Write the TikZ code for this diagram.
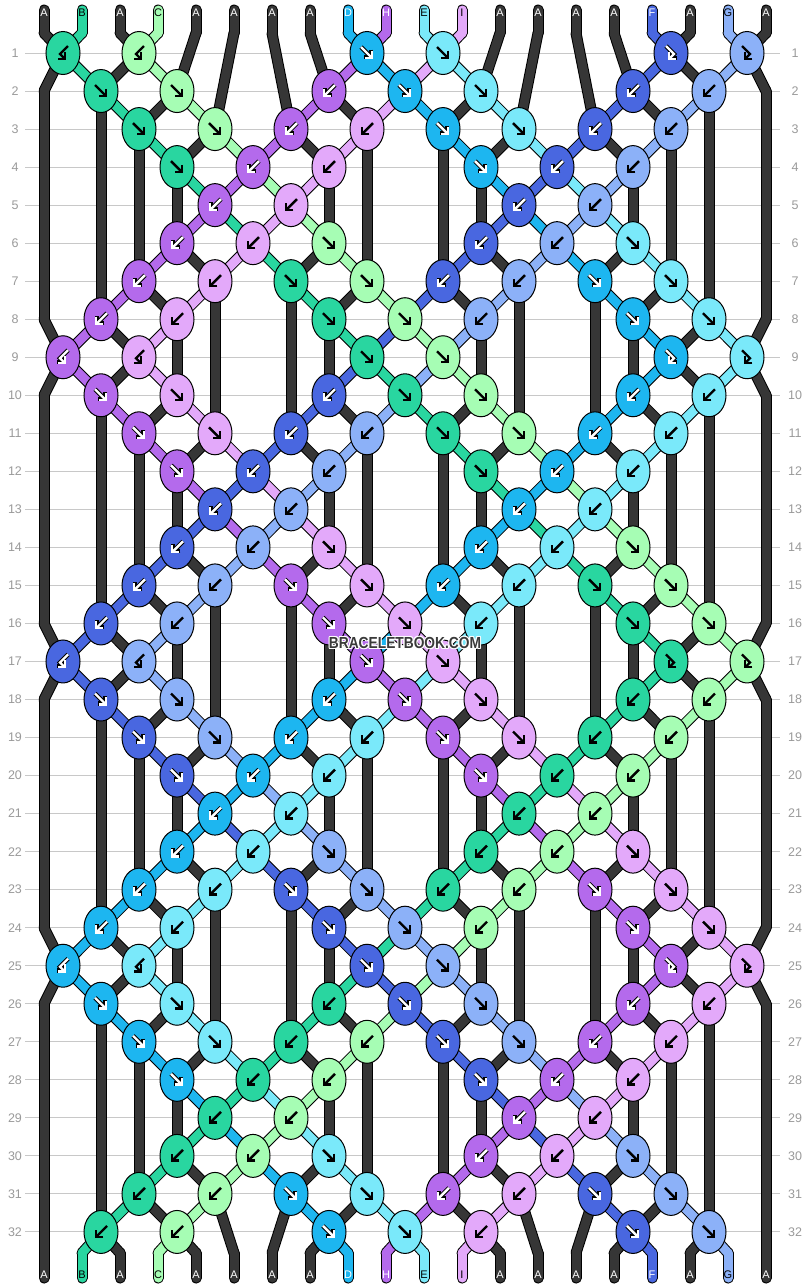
\documentclass[tikz,border=0pt]{standalone}
\usepackage{fontspec}
\setmainfont{Liberation Sans}
\usetikzlibrary{arrows.meta,shapes.geometric}

% thread colours
\definecolor{strA}{HTML}{363636}
\definecolor{strB}{HTML}{29D6A0}
\definecolor{strC}{HTML}{A6FDB4}
\definecolor{strD}{HTML}{1DB6F0}
\definecolor{strE}{HTML}{7AE9FA}
\definecolor{strF}{HTML}{4967E0}
\definecolor{strG}{HTML}{8CB1F8}
\definecolor{strH}{HTML}{B46AEC}
\definecolor{strI}{HTML}{E3A9FA}
% arrow ink and its rim on each colour
\colorlet{inkA}{white}\colorlet{haloA}{strA}
\colorlet{inkB}{black}\colorlet{haloB}{strB}
\colorlet{inkC}{black}\colorlet{haloC}{strC}
\colorlet{inkD}{white}\colorlet{haloD}{black}
\colorlet{inkE}{black}\colorlet{haloE}{strE}
\colorlet{inkF}{white}\colorlet{haloF}{black}
\colorlet{inkG}{black}\colorlet{haloG}{strG}
\colorlet{inkH}{white}\colorlet{haloH}{black}
\colorlet{inkI}{black}\colorlet{haloI}{strI}
\definecolor{gridgray}{HTML}{C8C8C8}
\definecolor{numgray}{HTML}{9A9A9A}
\definecolor{markgray}{HTML}{3A3A3A}

\pgfdeclarelayer{paper}
\pgfdeclarelayer{rims}
\pgfdeclarelayer{threads}
\pgfsetlayers{paper,rims,threads,main}

\tikzset{
  knot/.style={ellipse, draw=black, line width=1pt, minimum width=34pt,
    minimum height=43pt, inner sep=0pt},
  rowline/.style={gridgray, line width=1pt},
  rownum/.style={numgray, font=\fontsize{12.5}{12.5}\selectfont, inner sep=0pt},
  endlabel/.style={font=\fontsize{11}{11}\selectfont, inner sep=0pt},
  rim/.style={black, line width=11pt, line cap=round, line join=round},
  strand/.style={line width=9pt, line cap=round, line join=round},
  knotarrow/.style={line width=2.4pt, -{Straight Barb[length=5pt,width=10pt]}},
  watermark/.style={font=\bfseries\fontsize{16}{16}\selectfont, inner sep=0pt}
}

% pieces of thread are collected first and drawn under the knots at the end
\gdef\threadlist{}
\newcommand\thread[3]{%
  \xdef\threadlist{\unexpanded\expandafter{\threadlist}\noexpand\piece{#1}{#2}{#3}}}
\newcommand\rimpiece[3]{\draw[rim] (#1.center) -- (#2.center);}
\newcommand\strandpiece[3]{\draw[strand, str#3] (#1.center) -- (#2.center);}

% arrow inside a knot: type (f, b, F = fb, B = bf), colour, knot
\newcommand\knotarrow[3]{%
  \if#1f\def\ax{-6}\def\ay{-6}\def\bx{0}\def\by{0}\def\cx{6}\def\cy{6}\fi
  \if#1b\def\ax{6}\def\ay{-6}\def\bx{0}\def\by{0}\def\cx{-6}\def\cy{6}\fi
  \if#1F\def\ax{-5}\def\ay{-7}\def\bx{3}\def\by{1}\def\cx{-3}\def\cy{7}\fi
  \if#1B\def\ax{5}\def\ay{-7}\def\bx{-3}\def\by{1}\def\cx{3}\def\cy{7}\fi
  \draw[knotarrow, line width=4.4pt, halo#2, shift={(#3.center)}]
    (\ax,\ay) -- (\bx,\by) -- (\cx,\cy);
  \draw[knotarrow, ink#2, shift={(#3.center)}]
    (\ax,\ay) -- (\bx,\by) -- (\cx,\cy);}

\begin{document}
\begin{tikzpicture}[x=1pt,y=-1pt]
  \useasboundingbox (0,0) rectangle (810,1288);
  \begin{pgfonlayer}{paper}
    \fill[white] (0,0) rectangle (810,1288);
    \foreach \row in {1,...,32}{
      \pgfmathsetmacro\yy{53+38.03*(\row-1)}
      \draw[rowline] (25,\yy) -- (780,\yy);
    }
  \end{pgfonlayer}
  \foreach \row in {1,...,32}{
    \pgfmathsetmacro\yy{53+38.03*(\row-1)}
    \node[rownum] (rl\row) at (15,\yy) {\row};
    \node[rownum] (rr\row) at (795,\yy) {\row};
  }

  % threads at the top
  \foreach \s [count=\pos] in {A,B,A,C,A,A,A,A,D,H,E,I,A,A,A,A,F,A,G,A}{
    \expandafter\xdef\csname pc\pos\endcsname{\s}
    \expandafter\xdef\csname pa\pos\endcsname{t\pos}
    \coordinate (s\pos) at ({6+38*\pos},10);
    \coordinate (t\pos) at ({6+38*\pos},33);
    \thread{s\pos}{t\pos}{\s}
    \node[endlabel, text=ink\s] (lt\pos) at ({6+38*\pos},13) {\s};
  }

  % knots, the same 8 rows four times
  \foreach \lap in {0,...,3}{
    \foreach \spec [count=\i] in {
        {B,B,o,o,f,f,o,o,F,F},
        {f,f,o,b,f,f,o,b,b},
        {o,f,f,b,b,f,f,b,b,o},
        {o,f,b,b,o,f,b,b,o},
        {o,o,b,b,o,o,b,b,o,o},
        {o,b,b,f,o,b,b,f,o},
        {o,b,b,f,f,b,b,f,f,o},
        {b,b,o,f,f,b,o,f,f}}{
      \pgfmathtruncatemacro\row{8*\lap+\i}
      \pgfmathsetmacro\yy{53+38.03*(\row-1)}
      \pgfmathtruncatemacro\odd{mod(\i,2)}
      \ifnum\odd=0
        % the outer threads rest on the edge
        \coordinate (e\row-1) at (44,\yy);
        \coordinate (e\row-20) at (766,\yy);
        \edef\from{\csname pa1\endcsname}\edef\hue{\csname pc1\endcsname}
        \thread{\from}{e\row-1}{\hue}
        \expandafter\xdef\csname pa1\endcsname{e\row-1}
        \edef\from{\csname pa20\endcsname}\edef\hue{\csname pc20\endcsname}
        \thread{\from}{e\row-20}{\hue}
        \expandafter\xdef\csname pa20\endcsname{e\row-20}
      \fi
      \foreach \kt [count=\k] in \spec {
        \pgfmathtruncatemacro\pos{2*\k-\odd}
        \pgfmathtruncatemacro\nxt{\pos+1}
        \if\kt o\else
          \edef\lft{\csname pc\pos\endcsname}\edef\rgt{\csname pc\nxt\endcsname}
          \edef\aL{\csname pa\pos\endcsname}\edef\aR{\csname pa\nxt\endcsname}
          \if\kt f\let\face\lft\fi
          \if\kt F\let\face\lft\fi
          \if\kt b\let\face\rgt\fi
          \if\kt B\let\face\rgt\fi
          \node[knot, fill=str\face] (k\row-\pos) at ({25+38*\pos},\yy) {};
          \knotarrow{\kt}{\face}{k\row-\pos}
          \thread{\aL}{k\row-\pos}{\lft}
          \thread{\aR}{k\row-\pos}{\rgt}
          \expandafter\xdef\csname pa\pos\endcsname{k\row-\pos}
          \expandafter\xdef\csname pa\nxt\endcsname{k\row-\pos}
          \if\kt f\expandafter\xdef\csname pc\pos\endcsname{\rgt}%
            \expandafter\xdef\csname pc\nxt\endcsname{\lft}\fi
          \if\kt b\expandafter\xdef\csname pc\pos\endcsname{\rgt}%
            \expandafter\xdef\csname pc\nxt\endcsname{\lft}\fi
        \fi
      }
    }
  }

  % threads at the bottom
  \foreach \pos in {1,...,20}{
    \edef\from{\csname pa\pos\endcsname}\edef\hue{\csname pc\pos\endcsname}
    \coordinate (u\pos) at ({6+38*\pos},1253);
    \coordinate (v\pos) at ({6+38*\pos},1278);
    \thread{\from}{u\pos}{\hue}
    \thread{u\pos}{v\pos}{\hue}
    \node[endlabel, text=ink\hue] (lb\pos) at ({6+38*\pos},1275) {\hue};
  }

  \begin{pgfonlayer}{rims}
    \let\piece\rimpiece \threadlist
  \end{pgfonlayer}
  \begin{pgfonlayer}{threads}
    \let\piece\strandpiece \threadlist
  \end{pgfonlayer}

  \begin{scope}[shift={(405,643)}, xscale=0.86]
    \foreach \dx/\dy [count=\h] in {1.3/0,-1.3/0,0/1.3,0/-1.3,1/1,1/-1,-1/1,-1/-1}
      \node[watermark, white, transform shape] (halo\h) at (\dx,\dy) {BRACELETBOOK.COM};
    \node[watermark, markgray, transform shape] (mark) at (0,0) {BRACELETBOOK.COM};
  \end{scope}
\end{tikzpicture}
\end{document}
